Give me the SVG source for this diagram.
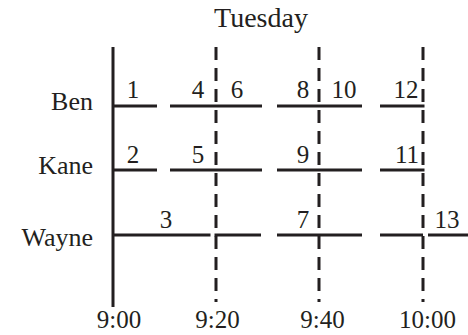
<svg xmlns="http://www.w3.org/2000/svg" width="468" height="335" viewBox="0 0 468 335">
<style>
.lbl{font-size:26px;text-anchor:end}
.num{font-size:25px;text-anchor:middle}
.time{font-size:25px;text-anchor:middle}
.seg{stroke:#231f20;stroke-width:3;fill:none}
.dash{stroke:#231f20;stroke-width:3;fill:none;stroke-dasharray:13 8}
</style>
<rect width="468" height="335" fill="#ffffff"/>
<g font-family="'Liberation Serif', 'DejaVu Serif', 'Times New Roman', serif" fill="#231f20">
<text id="title" x="261" y="27" font-size="28" text-anchor="middle">Tuesday</text>
<g id="names">
<text class="lbl" x="93" y="110">Ben</text>
<text class="lbl" x="93" y="174">Kane</text>
<text class="lbl" x="93" y="246">Wayne</text>
</g>
<g id="numbers">
<text class="num" x="133" y="98">1</text>
<text class="num" x="198" y="98">4</text>
<text class="num" x="237" y="98">6</text>
<text class="num" x="303" y="98">8</text>
<text class="num" x="344" y="98">10</text>
<text class="num" x="406" y="98">12</text>
<text class="num" x="133" y="163">2</text>
<text class="num" x="198" y="163">5</text>
<text class="num" x="303" y="163">9</text>
<text class="num" x="407" y="163">11</text>
<text class="num" x="166" y="228">3</text>
<text class="num" x="303" y="228">7</text>
<text class="num" x="447" y="228">13</text>
</g>
<g id="times">
<text class="time" x="119" y="328">9:00</text>
<text class="time" x="217.5" y="328">9:20</text>
<text class="time" x="322.5" y="328">9:40</text>
<text class="time" x="427.5" y="328">10:00</text>
</g>
</g>
<g id="axes">
<line class="seg" x1="113" y1="47" x2="113" y2="307"/>
<line class="dash" x1="216" y1="47" x2="216" y2="302"/>
<line class="dash" x1="319" y1="47" x2="319" y2="302"/>
<line class="dash" x1="423" y1="47" x2="423" y2="302"/>
</g>
<g id="segments">
<line class="seg" x1="113" y1="106" x2="157" y2="106"/>
<line class="seg" x1="170" y1="106" x2="262" y2="106"/>
<line class="seg" x1="277" y1="106" x2="362" y2="106"/>
<line class="seg" x1="380" y1="106" x2="424.5" y2="106"/>
<line class="seg" x1="113" y1="170" x2="157" y2="170"/>
<line class="seg" x1="170" y1="170" x2="262" y2="170"/>
<line class="seg" x1="277" y1="170" x2="362" y2="170"/>
<line class="seg" x1="380" y1="170" x2="424.5" y2="170"/>
<line class="seg" x1="113" y1="235" x2="210.5" y2="235"/>
<line class="seg" x1="214.5" y1="235" x2="261" y2="235"/>
<line class="seg" x1="277" y1="235" x2="362" y2="235"/>
<line class="seg" x1="380" y1="235" x2="423" y2="235"/>
<line class="seg" x1="428" y1="235" x2="468" y2="235"/>
</g>
</svg>
